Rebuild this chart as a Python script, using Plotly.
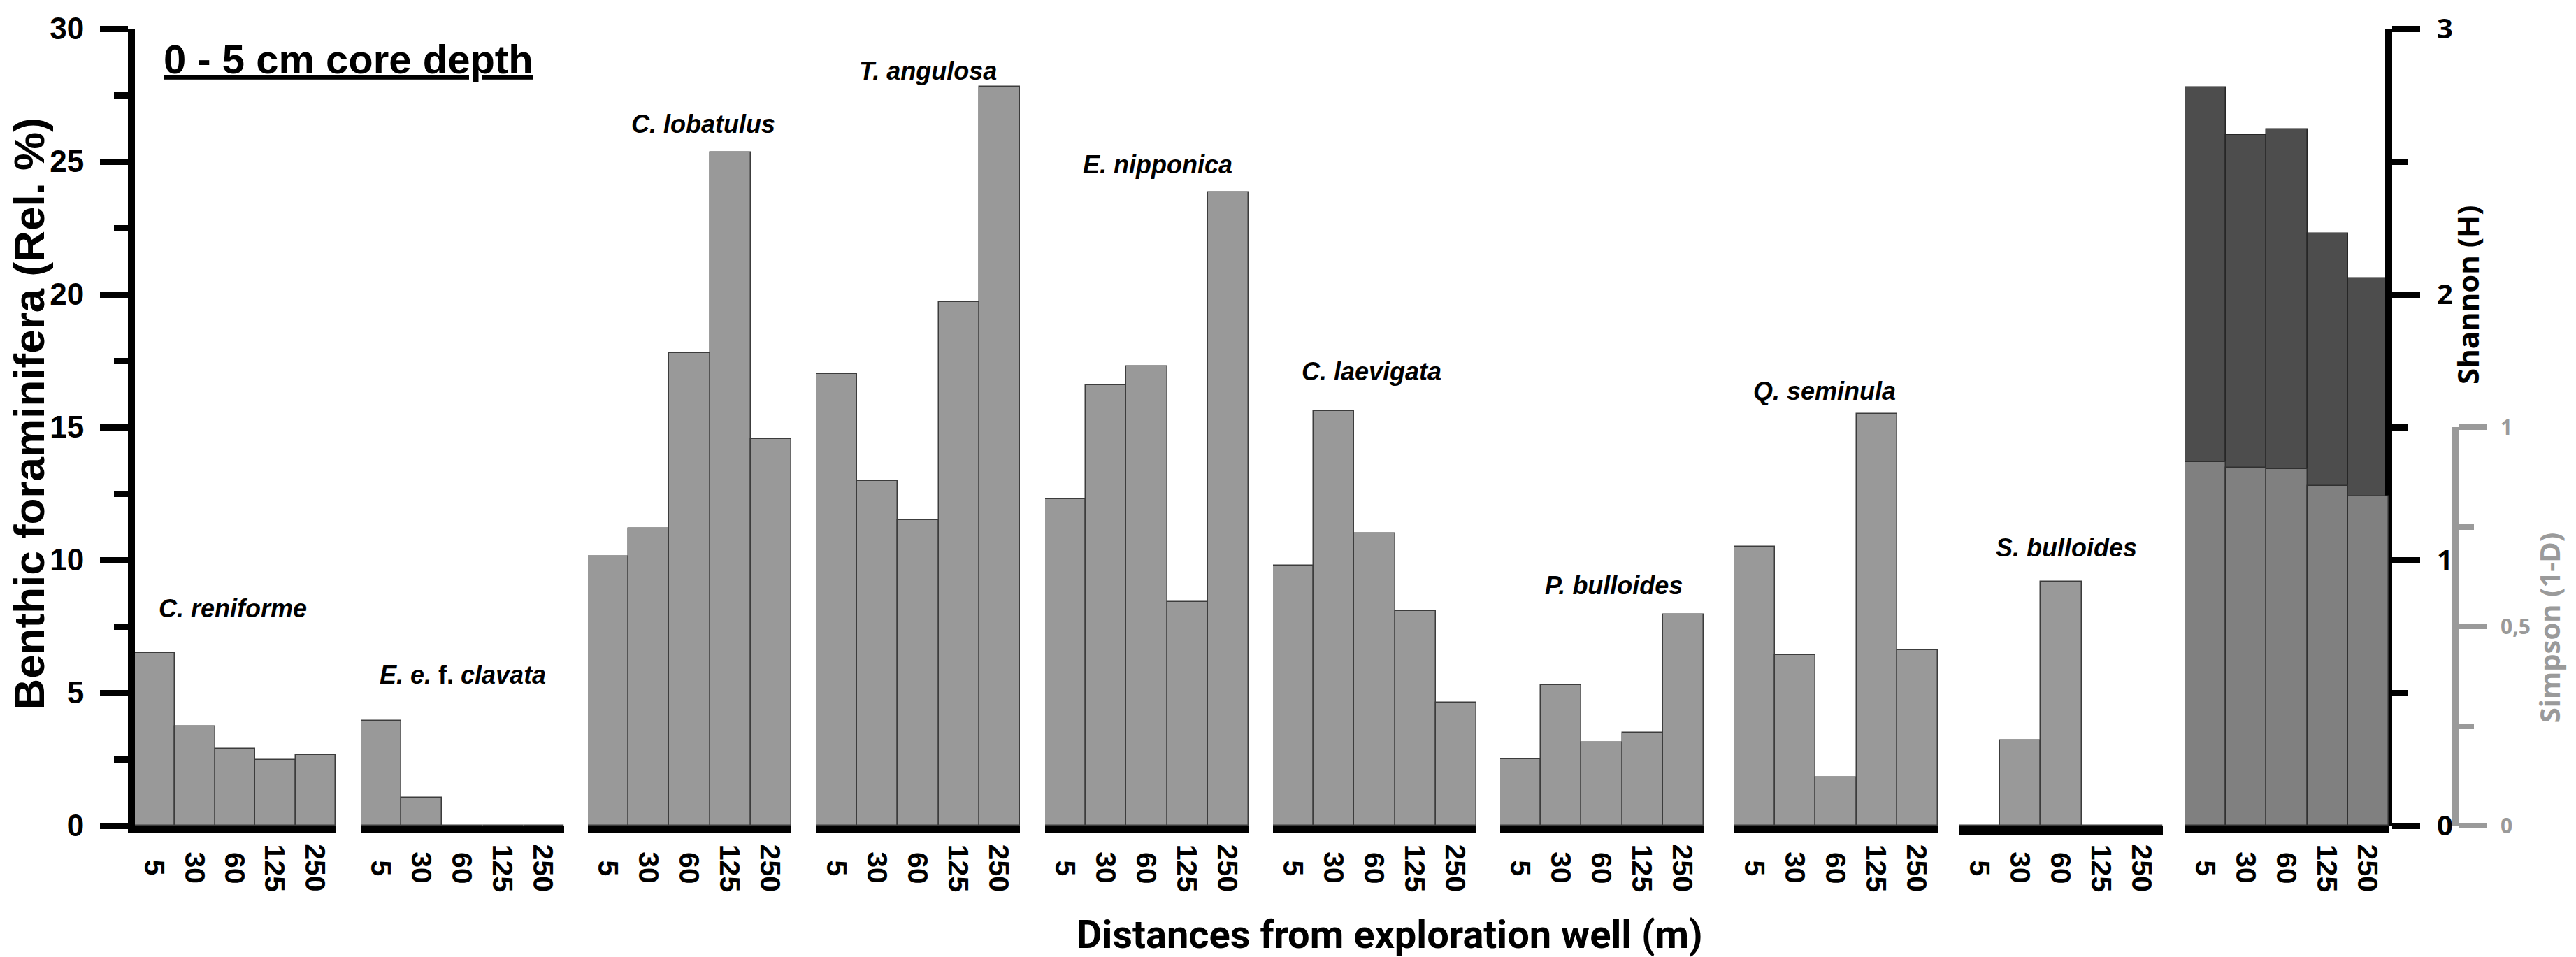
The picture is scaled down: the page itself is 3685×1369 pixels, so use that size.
import plotly.graph_objects as go

# ---------------- data ----------------
distances = ["5", "30", "60", "125", "250"]

species_names = ["C. reniforme", "E. e. f. clavata", "C. lobatulus", "T. angulosa",
                 "E. nipponica", "C. laevigata", "P. bulloides", "Q. seminula", "S. bulloides"]
species_labels = ["<b><i>C. reniforme</i></b>", "<b><i>E. e.</i> f. <i>clavata</i></b>",
                  "<b><i>C. lobatulus</i></b>", "<b><i>T. angulosa</i></b>",
                  "<b><i>E. nipponica</i></b>", "<b><i>C. laevigata</i></b>",
                  "<b><i>P. bulloides</i></b>", "<b><i>Q. seminula</i></b>",
                  "<b><i>S. bulloides</i></b>"]

c_reniforme = [6.5, 3.75, 2.9, 2.47, 2.65]
e_clavata = [3.96, 1.04, 0, 0, 0]
c_lobatulus = [10.13, 11.18, 17.79, 25.35, 14.55]
t_angulosa = [17.0, 12.98, 11.51, 19.72, 27.82]
e_nipponica = [12.30, 16.59, 17.28, 8.43, 23.84]
c_laevigata = [9.78, 15.61, 10.99, 8.09, 4.62]
p_bulloides = [2.51, 5.28, 3.12, 3.50, 7.94]
q_seminula = [10.50, 6.42, 1.82, 15.49, 6.61]
s_bulloides = [0, 3.22, 9.19, 0, 0]

species_values = [c_reniforme, e_clavata, c_lobatulus, t_angulosa, e_nipponica,
                  c_laevigata, p_bulloides, q_seminula, s_bulloides]

shannon = [2.78, 2.60, 2.62, 2.23, 2.06]
simpson = [0.912, 0.899, 0.894, 0.852, 0.826]

rel_ticks = [0, 5, 10, 15, 20, 25, 30]
shannon_ticks = [0, 1, 2, 3]
simpson_tickvals = [0, 0.5, 1]
simpson_ticktext = ["0", "0,5", "1"]

# ---------------- layout geometry (pixels) ----------------
FIG_W, FIG_H = 3685, 1369
L, R = 193, 3512          # plot area left / right
T, B = 32, 1181           # plot area top / bottom
W, H = R - L, B - T

def px2x(px):
    return (px - L) / W

def py2y(py):
    return (B - py) / H

group_starts = [189, 516, 841, 1168, 1495, 1821, 2146, 2481, 2803, 3126]
group_width = 291

ARIAL = "Liberation Sans, Arial, sans-serif"
NARROW = "Roboto, Liberation Sans, sans-serif"
SEGOE = "Open Sans, Noto Sans, sans-serif"
BAR_FILL = "#999999"
BAR_LINE = "#3c3c3c"

fig = go.Figure()

for g, vals in enumerate(species_values):
    axid = "x" if g == 0 else f"x{g+1}"
    fig.add_trace(go.Bar(
        x=distances, y=vals, xaxis=axid, yaxis="y",
        marker=dict(color=BAR_FILL, line=dict(color=BAR_LINE, width=1.5)),
        width=1.0, showlegend=False, name=species_names[g]))

fig.add_trace(go.Bar(
    x=distances, y=shannon, xaxis="x10", yaxis="y2",
    marker=dict(color="#4d4d4d", line=dict(color="#262626", width=1.5)),
    width=1.0, showlegend=False, name="Shannon (H)"))
fig.add_trace(go.Bar(
    x=distances, y=simpson, xaxis="x10", yaxis="y3",
    marker=dict(color="#808080", line=dict(color="#303030", width=1.5)),
    width=1.0, showlegend=False, name="Simpson (1-D)"))

layout = dict(
    width=FIG_W, height=FIG_H,
    margin=dict(l=L, r=FIG_W - R, t=T, b=FIG_H - B, pad=0),
    paper_bgcolor="white", plot_bgcolor="rgba(0,0,0,0)",
    bargap=0, barmode="overlay",
    showlegend=False,
)

for g in range(10):
    key = "xaxis" if g == 0 else f"xaxis{g+1}"
    start = group_starts[g]
    end = start + group_width if g < 9 else 3417
    layout[key] = dict(
        domain=[max(0, px2x(start)), px2x(end)],
        type="category", categoryorder="array", categoryarray=distances,
        range=[-0.5, 4.5], anchor="y",
        showline=True, linecolor="black", linewidth=13 if g == 8 else 10,
        showticklabels=False, ticks="", showgrid=False, zeroline=False,
        fixedrange=True,
    )

layout["yaxis"] = dict(
    domain=[0, 1], range=[0, 30], anchor="x",
    showline=True, linecolor="black", linewidth=10,
    ticks="outside", ticklen=40, tickwidth=9, tickcolor="black",
    tickvals=rel_ticks,
    minor=dict(ticks="outside", ticklen=20, tickwidth=9, tickcolor="black", dtick=2.5, showgrid=False),
    tickfont=dict(family=ARIAL, size=44, color="black", weight="bold"),
    showgrid=False, zeroline=False, ticklabelstandoff=14,
)
layout["yaxis2"] = dict(
    domain=[0, 1], range=[0, 3], anchor="free", position=px2x(3417), side="right",
    showline=True, linecolor="black", linewidth=10,
    ticks="outside", ticklen=40, tickwidth=9, tickcolor="black",
    tickvals=shannon_ticks,
    minor=dict(ticks="outside", ticklen=22, tickwidth=9, tickcolor="black", dtick=0.5, showgrid=False),
    tickfont=dict(family=SEGOE, size=40, color="black", weight="bold"),
    showgrid=False, zeroline=False, ticklabelstandoff=16,
)
layout["yaxis3"] = dict(
    domain=[0, 0.5], range=[0, 1], anchor="free", position=1.0, side="right",
    showline=True, linecolor="#9a9a9a", linewidth=9,
    ticks="outside", ticklen=40, tickwidth=8, tickcolor="#9a9a9a",
    tickvals=simpson_tickvals, ticktext=simpson_ticktext,
    minor=dict(ticks="outside", ticklen=22, tickwidth=8, tickcolor="#9a9a9a",
               tickvals=[0.25, 0.75], showgrid=False),
    tickfont=dict(family=SEGOE, size=30, color="#9a9a9a", weight="bold"),
    showgrid=False, zeroline=False, ticklabelstandoff=14,
)

annotations = []

# distance labels under each bar (rotated, centred) - x given as category index
for g in range(10):
    axid = "x" if g == 0 else f"x{g+1}"
    for i, d in enumerate(distances):
        annotations.append(dict(
            x=i, xref=axid, y=py2y(1242), yref="paper", text=f"<b>{d}</b>",
            textangle=90, showarrow=False, xanchor="center", yanchor="middle",
            font=dict(family=ARIAL, size=41, color="black")))

# species labels (pixel centres)
label_pos = [(333, 868), (662, 964), (1006, 170), (1327, 93), (1656, 228),
             (1962, 526), (2308, 835), (2610, 555), (2956, 780)]
for (px, py), txt in zip(label_pos, species_labels):
    annotations.append(dict(
        x=px2x(px), y=py2y(py), xref="paper", yref="paper", text=txt,
        showarrow=False, xanchor="center", yanchor="middle",
        font=dict(family=ARIAL, size=36, color="black")))

# title
annotations.append(dict(
    x=px2x(232), y=py2y(76), xref="paper", yref="paper",
    text="<b>0 - 5 cm core depth</b>", showarrow=False,
    xanchor="left", yanchor="middle",
    font=dict(family=ARIAL, size=58, color="black", lineposition="under")))

# axis titles
annotations.append(dict(
    x=px2x(42), y=py2y(588), xref="paper", yref="paper",
    text="<b>Benthic foraminifera (Rel. %)</b>", textangle=-90, showarrow=False,
    xanchor="center", yanchor="middle",
    font=dict(family=ARIAL, size=62, color="black")))
annotations.append(dict(
    x=px2x(1988), y=py2y(1338), xref="paper", yref="paper",
    text="<b>Distances from exploration well (m)</b>", showarrow=False,
    xanchor="center", yanchor="middle",
    font=dict(family=NARROW, size=56, color="black")))
annotations.append(dict(
    x=px2x(3530), y=py2y(416), xref="paper", yref="paper",
    text="<b>Shannon (H)</b>", textangle=-90, showarrow=False,
    xanchor="center", yanchor="middle",
    font=dict(family=SEGOE, size=42, color="black")))
annotations.append(dict(
    x=px2x(3646), y=py2y(896), xref="paper", yref="paper",
    text="<b>Simpson (1-D)</b>", textangle=-90, showarrow=False,
    xanchor="center", yanchor="middle",
    font=dict(family=SEGOE, size=40, color="#9a9a9a")))

layout["annotations"] = annotations
fig.update_layout(**layout)

fig.write_html("out.html")
